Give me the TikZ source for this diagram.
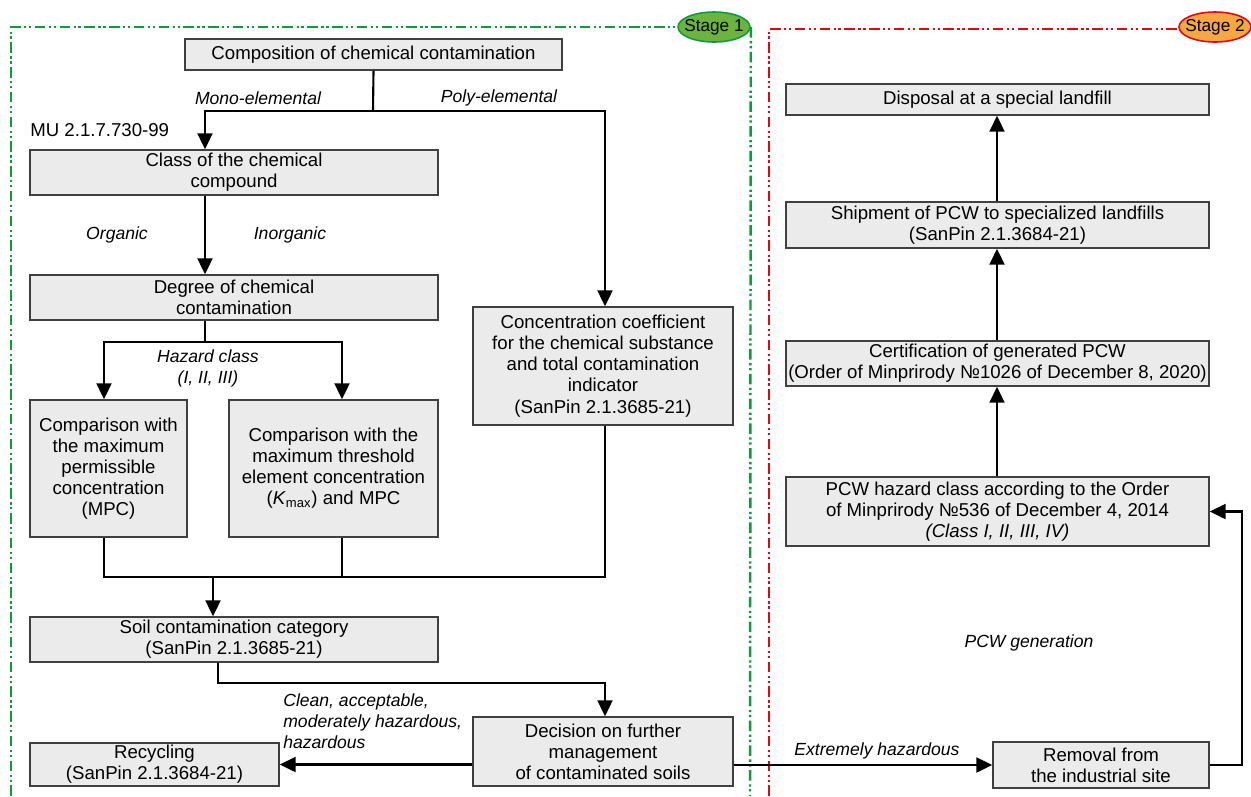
\documentclass[tikz,border=0pt]{standalone}
\usepackage{fontspec}
\setmainfont{Liberation Sans}
\usetikzlibrary{arrows.meta,shapes.geometric}
\definecolor{boxfill}{HTML}{EBEBEB}
\definecolor{boxline}{HTML}{404040}
\definecolor{frgreen}{HTML}{109A3C}
\definecolor{elgreen}{HTML}{6DB33F}
\definecolor{frred}{HTML}{E30613}
\definecolor{elorange}{HTML}{F5A742}
\tikzset{
  box/.style={draw=boxline, fill=boxfill, line width=0.9pt, align=center, inner sep=1pt},
  conn/.style={draw=black, line width=1.2pt},
  arr/.style={conn, -{Triangle[length=9pt,width=8.5pt]}},
  lbl/.style={font=\itshape, align=center, inner sep=0pt},
  frame/.style={line width=1.4pt, dash pattern=on 6pt off 2pt on 1.3pt off 1.5pt on 1.3pt off 2pt},
  stage/.style={ellipse, draw, line width=0.9pt, minimum width=1.44cm, minimum height=0.6cm, inner sep=0pt, font=\fontsize{9.8}{12}\selectfont}
}
\begin{document}
\begin{tikzpicture}[x=0.02cm, y=-0.02cm, font=\fontsize{10.6}{12}\selectfont]
\useasboundingbox (0,0) rectangle (1251,796);

% stage labels and frames
\node[stage, draw=frgreen, fill=elgreen] (s1) at (714,27) {\makebox[0pt]{Stage 1}};
\node[stage, draw=frred, fill=elorange] (s2) at (1215,27) {\makebox[0pt]{Stage 2}};
\coordinate (g0) at (11,796);
\coordinate (g1) at (11,27);
\coordinate (gb) at (750,796);
\coordinate (r0) at (769,796);
\coordinate (r1) at (769,29);
\draw[frame, frgreen] (g0) -- (g1) -- (s1.west);
\draw[frame, frgreen] (s1.east) -- (gb);
\draw[frame, frred] (r0) -- (r1) -- (r1 -| s2.west);

% Stage 1 boxes
\node[box, minimum width=7.54cm, minimum height=0.62cm] (b1) at (373.5,54.5) {Composition of chemical contamination};
\node[box, minimum width=8.16cm, minimum height=0.9cm] (b2) at (234,172.5) {Class of the chemical\\compound};
\node[box, minimum width=8.16cm, minimum height=0.9cm] (b3) at (234,297.5) {Degree of chemical\\contamination};
\node[box, minimum width=3.14cm, minimum height=2.74cm] (b4) at (108.5,468.5) {Comparison with\\the maximum\\permissible\\concentration\\(MPC)};
\node[box, minimum width=4.18cm, minimum height=2.74cm] (b5) at (333.5,468.5) {Comparison with the\\maximum threshold\\element concentration\\(\textit{K}\textsubscript{max}) and MPC};
\node[box, minimum width=5.2cm, minimum height=2.36cm] (b6) at (603,366) {Concentration coefficient\\for the chemical substance\\and total contamination\\indicator\\(SanPin 2.1.3685-21)};
\node[box, minimum width=8.16cm, minimum height=0.9cm] (b7) at (234,639.5) {Soil contamination category\\(SanPin 2.1.3685-21)};
\node[box, minimum width=5.2cm, minimum height=1.38cm] (b8) at (603,751.5) {Decision on further\\management\\of contaminated soils};
\node[box, minimum width=4.98cm, minimum height=0.86cm] (b9) at (154.5,764.5) {Recycling\\(SanPin 2.1.3684-21)};

% Stage 2 boxes
\node[box, minimum width=4.32cm, minimum height=0.92cm] (b10) at (1101,765) {Removal from\\the industrial site};
\node[box, minimum width=8.46cm, minimum height=1.38cm] (b11) at (997.5,511.5) {PCW hazard class according to the Order\\of Minprirody №536 of December 4, 2014\\\textit{(Class I, II, III, IV)}};
\node[box, minimum width=8.46cm, minimum height=0.9cm] (b12) at (997.5,363.5) {Certification of generated PCW\\(Order of Minprirody №1026 of December 8, 2020)};
\node[box, minimum width=8.46cm, minimum height=0.92cm] (b13) at (997.5,225) {Shipment of PCW to specialized landfills\\(SanPin 2.1.3684-21)};
\node[box, minimum width=8.46cm, minimum height=0.62cm] (b14) at (997.5,99.5) {Disposal at a special landfill};

% helper coordinates
\coordinate (j1) at (373,111);
\coordinate (xL) at (205,0);
\coordinate (xR) at (605,0);
\coordinate (j2) at (205,342);
\coordinate (x104) at (104,0);
\coordinate (x342) at (342,0);
\coordinate (j3) at (213,577);
\coordinate (j4) at (218,683);
\coordinate (xr) at (1242,0);
\coordinate (x997) at (997,0);

% Stage 1 connectors
\draw[conn] (b1.south) -- (j1);
\draw[arr] (j1) -| (b2.north -| xL);
\draw[arr] (j1) -| (b6.north -| xR);
\draw[arr] (b2.south -| xL) -- (b3.north -| xL);
\draw[conn] (b3.south -| xL) -- (j2);
\draw[arr] (j2) -| (b4.north -| x104);
\draw[arr] (j2) -| (b5.north -| x342);
\draw[conn] (b4.south -| x104) |- (j3 -| xR) -- (b6.south -| xR);
\draw[conn] (b5.south -| x342) -- (j3 -| x342);
\draw[arr] (j3) -- (b7.north -| j3);
\draw[arr] (b7.south -| j4) -- (j4) -| (b8.north -| xR);
\draw[arr] (b8.west |- b9.east) -- (b9.east);
\draw[arr] (b8.east |- b10.west) -- (b10.west);

% Stage 2 connectors
\draw[arr] (b10.east) -| (xr |- b11.east) -- (b11.east);
\draw[arr] (b11.north -| x997) -- (b12.south -| x997);
\draw[arr] (b12.north -| x997) -- (b13.south -| x997);
\draw[arr] (b13.north -| x997) -- (b14.south -| x997);

% labels
\node[lbl] (lmono) at (258,98) {Mono-elemental};
\node[lbl] (lpoly) at (499,98) {Poly-elemental};
\node[anchor=west, inner sep=0pt] (lmu) at (30,130) {MU 2.1.7.730-99};
\node[lbl] (lorg) at (117,235) {Organic};
\node[lbl] (linorg) at (290,235) {Inorganic};
\node[lbl] (lhaz) at (208,368) {Hazard class\\(I, II, III)};
\node[lbl, anchor=west, align=left] (lclean) at (283,721) {Clean, acceptable,\\moderately hazardous,\\hazardous};
\node[lbl] (lext) at (877,751) {Extremely hazardous};
\node[lbl] (lpcw) at (1029,643) {PCW generation};
\end{tikzpicture}
\end{document}
